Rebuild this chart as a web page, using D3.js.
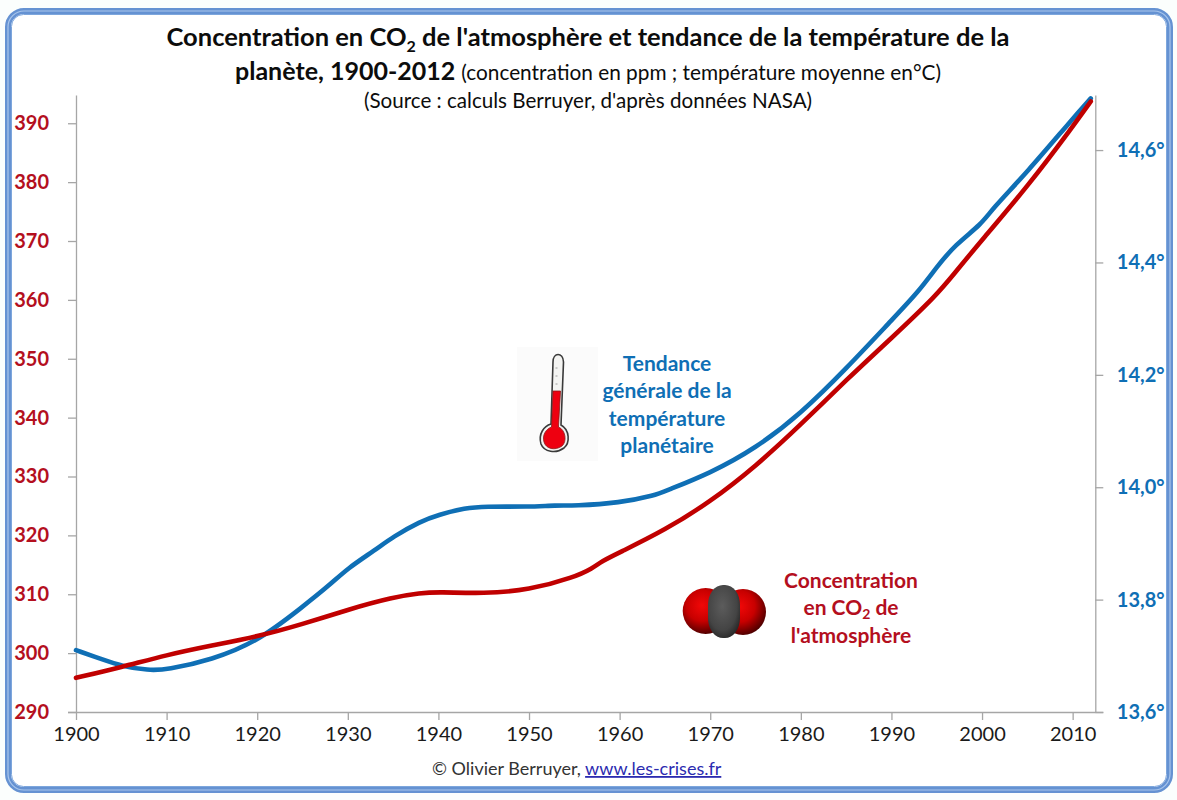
<!DOCTYPE html>
<html>
<head>
<meta charset="utf-8">
<script src="https://cdnjs.cloudflare.com/ajax/libs/d3/7.8.5/d3.min.js"></script>
<style>
  html, body { margin: 0; padding: 0; background: #fbfefd; }
  svg { display: block; }
  text { font-family: Lato, "Open Sans", sans-serif; }
  .axis path, .axis line { stroke: #a6a6a6; stroke-width: 1.3px; }
</style>
</head>
<body>
<svg id="chart" width="1177" height="800"></svg>
<script>
// values
const co2Years = [1900, 1905, 1910, 1915, 1920, 1925, 1930, 1935, 1938, 1940, 1945, 1950, 1955, 1957, 1958, 1960, 1965, 1970, 1975, 1980, 1985, 1990, 1995, 1997, 2000, 2005, 2010, 2012];
const co2Values = [295.8, 297.6, 299.7, 301.3, 302.8, 304.9, 307.4, 309.5, 310.2, 310.4, 310.1, 310.7, 312.9, 314.4, 315.6, 317.1, 320.9, 325.7, 331.7, 338.8, 346.4, 353.5, 360.8, 364.6, 370.2, 379.2, 389.4, 393.7];

const tempYears = [1900, 1903, 1905, 1908, 1910, 1915, 1920, 1925, 1928, 1930, 1933, 1935, 1938, 1940, 1943, 1945, 1950, 1953, 1955, 1960, 1964, 1965, 1970, 1975, 1980, 1985, 1990, 1993, 1995, 1997, 2000, 2001, 2005, 2010, 2012];
const tempValues = [13.710, 13.693, 13.682, 13.674, 13.675, 13.693, 13.725, 13.787, 13.826, 13.856, 13.888, 13.912, 13.939, 13.951, 13.963, 13.966, 13.965, 13.968, 13.967, 13.972, 13.986, 13.993, 14.025, 14.069, 14.131, 14.211, 14.297, 14.348, 14.392, 14.431, 14.469, 14.493, 14.561, 14.656, 14.692];

const yearTicks = [1900, 1910, 1920, 1930, 1940, 1950, 1960, 1970, 1980, 1990, 2000, 2010];
const co2Ticks = [290, 300, 310, 320, 330, 340, 350, 360, 370, 380, 390];
const tempTicks = [13.6, 13.8, 14.0, 14.2, 14.4, 14.6];

const BLUE = '#0f6fb5';
const RED = '#c00000';
const plot = { left: 76, right: 1095.3, top: 95, bottom: 712 };

const svg = d3.select('#chart');

const x = d3.scaleLinear().domain([1900, 2012.5]).range([plot.left, plot.right]);
const yCo2 = d3.scaleLinear().domain([290, 394.8]).range([plot.bottom, plot.top]);
const yTemp = d3.scaleLinear().domain([13.6, 14.698]).range([plot.bottom, plot.top]);

// frame
const defs = svg.append('defs');
svg.append('rect').attr('x', 8).attr('y', 11).attr('width', 1162).attr('height', 779)
  .attr('rx', 16).attr('fill', '#fff').attr('stroke', '#6592d2').attr('stroke-width', 6);
svg.append('rect').attr('x', 8).attr('y', 11).attr('width', 1162).attr('height', 779)
  .attr('rx', 16).attr('fill', 'none').attr('stroke', '#a9c6ec').attr('stroke-width', 1.2);
svg.append('rect').attr('x', 11.5).attr('y', 14.5).attr('width', 1155).attr('height', 772)
  .attr('rx', 12).attr('fill', 'none').attr('stroke', '#7da6dc').attr('stroke-width', 1);

// axes
const xAxis = svg.append('g').attr('class', 'axis')
  .attr('transform', `translate(0,${plot.bottom})`)
  .call(d3.axisBottom(x).tickValues(yearTicks).tickFormat(d3.format('d')).tickSize(8).tickSizeOuter(0));
xAxis.selectAll('text').attr('dy', null).attr('y', 29).attr('fill', '#1a1a1a').style('font-size', '20px');
xAxis.select('.domain').attr('d', `M${plot.left - 8},0.5H${plot.right + 8}`);

const leftAxis = svg.append('g').attr('class', 'axis')
  .attr('transform', `translate(${plot.left},0)`)
  .call(d3.axisLeft(yCo2).tickValues(co2Ticks).tickSize(8).tickSizeOuter(0));
leftAxis.selectAll('text').attr('x', -27).attr('fill', '#b40f1e')
  .style('font-size', '20px').style('font-weight', 700);

const rightAxis = svg.append('g').attr('class', 'axis')
  .attr('transform', `translate(${plot.right},0)`)
  .call(d3.axisRight(yTemp).tickValues(tempTicks).tickSize(8).tickSizeOuter(0)
    .tickFormat(d => d3.format('.1f')(d).replace('.', ',') + '°'));
rightAxis.selectAll('text').attr('x', 21.5).attr('fill', BLUE)
  .style('font-size', '20px').style('font-weight', 700);

// curves
const tempLine = d3.line().x(d => x(d[0])).y(d => yTemp(d[1])).curve(d3.curveBasis);
const co2Line = d3.line().x(d => x(d[0])).y(d => yCo2(d[1])).curve(d3.curveBasis);

svg.append('path').datum(d3.zip(tempYears, tempValues))
  .attr('d', tempLine).attr('fill', 'none').attr('stroke', BLUE)
  .attr('stroke-width', 4.6).attr('stroke-linecap', 'round');
svg.append('path').datum(d3.zip(co2Years, co2Values))
  .attr('d', co2Line).attr('fill', 'none').attr('stroke', RED)
  .attr('stroke-width', 4.6).attr('stroke-linecap', 'round');

// title
const t1 = svg.append('text').attr('x', 588).attr('y', 46).attr('text-anchor', 'middle')
  .attr('fill', '#0c0c0c').style('font-size', '25.5px').style('font-weight', 700);
t1.append('tspan').text('Concentration en CO');
t1.append('tspan').attr('dy', 6).style('font-size', '16px').text('2');
t1.append('tspan').attr('dy', -6).text(" de l'atmosphère et tendance de la température de la");

const t2 = svg.append('text').attr('x', 588).attr('y', 80).attr('text-anchor', 'middle').attr('fill', '#0c0c0c');
t2.append('tspan').style('font-size', '25px').style('font-weight', 700).text('planète, 1900-2012 ');
t2.append('tspan').style('font-size', '20.8px').text('(concentration en ppm ; température moyenne en°C)');

svg.append('text').attr('x', 588).attr('y', 108).attr('text-anchor', 'middle')
  .attr('fill', '#0c0c0c').style('font-size', '20.6px')
  .text("(Source : calculs Berruyer, d'après données NASA)");

// footer
const foot = svg.append('text').attr('x', 432).attr('y', 775).style('font-size', '18px').attr('fill', '#333');
foot.append('tspan').text('© Olivier Berruyer,  ');
foot.append('tspan').attr('fill', '#2b2bb0').attr('text-decoration', 'underline').text('www.les-crises.fr');

// notes
function note(lines, cx, cy, color) {
  lines.forEach((line, i) => {
    const t = svg.append('text').attr('x', cx).attr('y', cy + i * 27.3).attr('text-anchor', 'middle')
      .attr('fill', color).style('font-size', '21px').style('font-weight', 700);
    line.forEach(part => {
      if (part === '2') t.append('tspan').attr('dy', 4).style('font-size', '14px').text('2');
      else t.append('tspan').attr('dy', t.selectAll('tspan').size() ? -4 : 0).text(part);
    });
  });
}
note([['Tendance'], ['générale de la'], ['température'], ['planétaire']], 667, 375, BLUE);
note([['Concentration'], ['en CO', '2', ' de'], ["l'atmosphère"]], 851, 592, '#b40f1e');

// thermometer
const thermo = svg.append('g');
thermo.append('rect').attr('x', 517).attr('y', 347).attr('width', 81).attr('height', 114).attr('fill', '#fbfbfb');
thermo.append('path')
  .attr('d', 'M553,362 C553,352 563,352 563.5,362 L561,425 C570,430 570,443 564,448 C556,454 544,452 541,444 C538,434 544,426 551,424 Z')
  .attr('fill', '#f4f4f2').attr('stroke', '#3a3a3a').attr('stroke-width', 1.6);
thermo.append('path')
  .attr('d', 'M553,391 L560.5,391 L558.5,427 C566,430 567,442 562,446 C555,451 546,449 544,442 C542,435 546,429 551.5,427 Z')
  .attr('fill', '#ee0010').attr('stroke', '#8a1a1a').attr('stroke-width', 0.8);
thermo.selectAll('line.mark').data([368, 376, 384]).enter().append('line')
  .attr('x1', 555.5).attr('x2', 557.5).attr('y1', d => d).attr('y2', d => d)
  .attr('stroke', '#888').attr('stroke-width', 0.8);

// CO2 molecule
const oxy = defs.append('radialGradient').attr('id', 'oxy').attr('cx', '42%').attr('cy', '38%').attr('r', '68%');
oxy.append('stop').attr('offset', '0%').attr('stop-color', '#f20808');
oxy.append('stop').attr('offset', '50%').attr('stop-color', '#c80000');
oxy.append('stop').attr('offset', '100%').attr('stop-color', '#3c0000');
const carb = defs.append('radialGradient').attr('id', 'carb').attr('cx', '45%').attr('cy', '40%').attr('r', '65%');
carb.append('stop').attr('offset', '0%').attr('stop-color', '#5c5c5c');
carb.append('stop').attr('offset', '70%').attr('stop-color', '#444');
carb.append('stop').attr('offset', '100%').attr('stop-color', '#262626');
const mol = svg.append('g');
mol.append('circle').attr('cx', 705.7).attr('cy', 611).attr('r', 23).attr('fill', 'url(#oxy)');
mol.append('circle').attr('cx', 743).attr('cy', 612).attr('r', 23).attr('fill', 'url(#oxy)');
mol.append('rect').attr('x', 708).attr('y', 585).attr('width', 32).attr('height', 53)
  .attr('rx', 15).attr('ry', 20).attr('fill', 'url(#carb)');
</script>
</body>
</html>
